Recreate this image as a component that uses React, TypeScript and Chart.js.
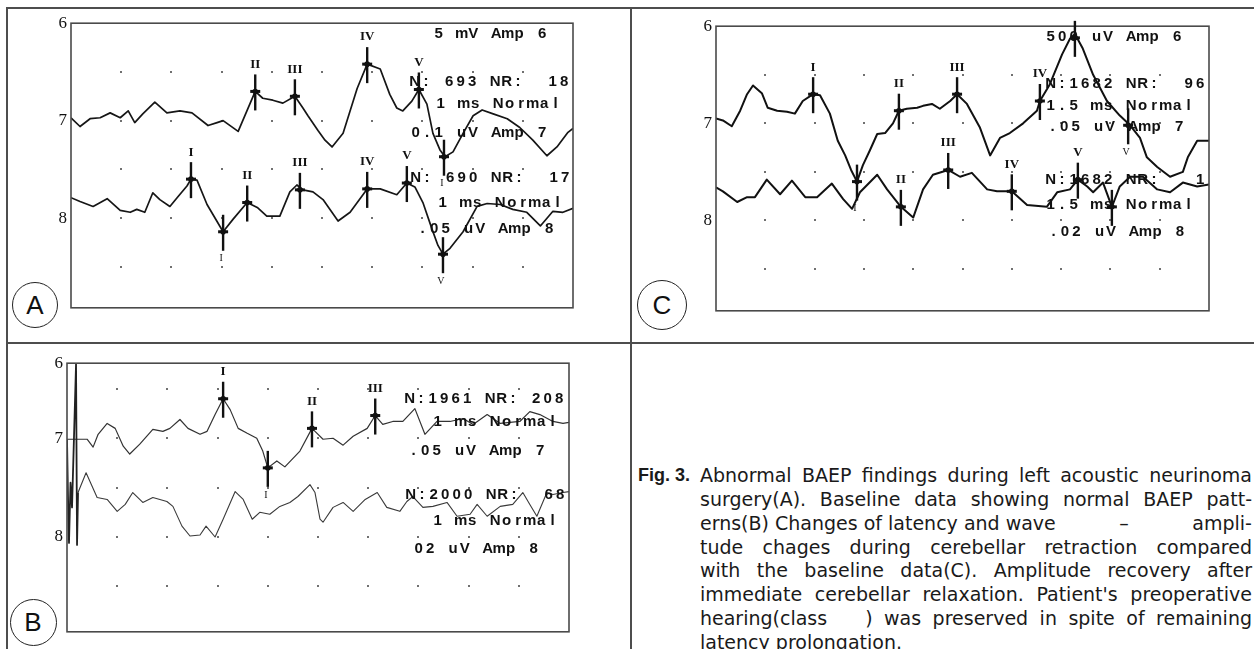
import React, { useEffect, useRef } from "react";
import { Chart, registerables } from "chart.js";

Chart.register(...registerables);

// ---------- shared axis values ----------
const yTickValuesAC = [6, 7, 8];
const yTickValuesB = [6.24, 7, 8];
const yTickLabels = ["6", "7", "8"];
const dotColumnsMs = [1, 2, 3, 4, 5, 6, 7, 8, 9];
const dotRowsAmp = [6.5, 7, 7.5, 8, 8.5];

// ---------- Panel A (intra-operative, abnormal) ----------
const aUpperMs = [0, 0.18, 0.38, 0.58, 0.78, 0.98, 1.14, 1.27, 1.43, 1.67, 1.91, 2.17, 2.41, 2.73, 2.91, 3.03, 3.33, 3.67, 3.82, 4.02, 4.22, 4.46, 4.62, 4.72, 4.92, 5.06, 5.2, 5.42, 5.7, 5.9, 6.16, 6.35, 6.49, 6.61, 6.79, 6.93, 7.09, 7.21, 7.35, 7.45, 7.61, 7.81, 8.01, 8.19, 8.41, 8.69, 8.94, 9.2, 9.48, 9.68, 9.9, 10];
const aUpperAmp = [6.97, 7.06, 6.98, 6.97, 6.92, 6.97, 6.9, 7.02, 6.93, 6.81, 6.92, 6.9, 6.92, 7.05, 7.02, 7.0, 7.11, 6.7, 6.77, 6.79, 6.82, 6.75, 6.87, 6.95, 7.1, 7.2, 7.27, 7.13, 6.67, 6.42, 6.47, 6.73, 6.87, 6.9, 6.8, 6.68, 6.83, 7.13, 7.3, 7.37, 7.32, 7.13, 6.95, 6.89, 6.93, 6.98, 7.07, 7.2, 7.36, 7.27, 7.12, 7.08];
const aLowerMs = [0, 0.18, 0.44, 0.72, 0.98, 1.18, 1.31, 1.47, 1.63, 1.77, 1.97, 2.13, 2.31, 2.39, 2.51, 2.71, 3.03, 3.23, 3.51, 3.71, 3.9, 4.16, 4.36, 4.5, 4.62, 4.82, 5.02, 5.32, 5.56, 5.9, 6.16, 6.49, 6.69, 6.85, 7.01, 7.19, 7.31, 7.41, 7.55, 7.81, 8.09, 8.29, 8.55, 8.8, 9.08, 9.35, 9.6, 9.8, 10];
const aLowerAmp = [7.79, 7.83, 7.88, 7.8, 7.92, 7.94, 7.91, 7.94, 7.74, 7.81, 7.88, 7.78, 7.67, 7.6, 7.61, 7.86, 8.14, 8.01, 7.84, 7.89, 7.98, 7.98, 7.73, 7.66, 7.71, 7.73, 7.81, 8.03, 7.94, 7.7, 7.7, 7.76, 7.64, 7.68, 7.84, 8.11, 8.28, 8.37, 8.31, 8.14, 7.88, 7.85, 7.86, 7.91, 7.94, 8.08, 7.93, 7.94, 7.9];
const aPeakMs = [3.67, 4.46, 5.9, 6.93, 7.43, 2.39, 3.03, 3.51, 4.56, 5.9, 6.69, 7.41];
const aPeakAmp = [6.7, 6.75, 6.42, 6.68, 7.37, 7.6, 8.14, 7.84, 7.71, 7.7, 7.64, 8.37];
const aPeakLabel = ["II", "III", "IV", "V", "I", "I", "I", "II", "III", "IV", "V", "V"];
const aPeakSide = ["up", "up", "up", "up", "down", "up", "down", "up", "up", "up", "up", "down"];
const aReadout = ["5 mV Amp 6", "N: 693 NR:  18", "1 ms Normal", "0.1 uV Amp 7", "N: 690 NR:  17", "1 ms Normal", ".05 uV Amp 8"];
const aReadoutMs = [7.21, 6.73, 7.25, 6.75, 6.75, 7.29, 6.89];
const aReadoutAmp = [6.11, 6.6, 6.83, 7.13, 7.59, 7.84, 8.11];

// ---------- Panel C (recovery) ----------
const cUpperMs = [0, 0.14, 0.32, 0.49, 0.63, 0.75, 0.93, 1.05, 1.24, 1.44, 1.6, 1.76, 1.97, 2.11, 2.31, 2.47, 2.62, 2.74, 2.86, 2.98, 3.12, 3.27, 3.43, 3.59, 3.71, 3.87, 4.08, 4.2, 4.38, 4.54, 4.75, 4.89, 5.09, 5.35, 5.56, 5.76, 5.96, 6.23, 6.51, 6.57, 6.77, 7.02, 7.18, 7.28, 7.44, 7.65, 7.93, 8.19, 8.4, 8.6, 8.74, 8.95, 9.21, 9.47, 9.57, 9.76, 10];
const cUpperAmp = [6.95, 6.97, 7.03, 6.87, 6.7, 6.61, 6.69, 6.84, 6.87, 6.88, 6.9, 6.77, 6.7, 6.71, 6.9, 7.18, 7.33, 7.48, 7.6, 7.43, 7.28, 7.11, 7.1, 7.0, 6.87, 6.85, 6.84, 6.82, 6.8, 6.85, 6.77, 6.7, 6.8, 7.04, 7.33, 7.15, 7.1, 7.0, 6.87, 6.77, 6.6, 6.29, 6.13, 6.08, 6.23, 6.5, 6.77, 6.92, 7.02, 7.15, 7.35, 7.45, 7.55, 7.5, 7.35, 7.18, 7.18];
const cLowerMs = [0, 0.14, 0.43, 0.63, 0.79, 1.03, 1.3, 1.54, 1.81, 2.05, 2.35, 2.58, 2.76, 2.92, 3.27, 3.47, 3.75, 4.0, 4.2, 4.4, 4.71, 4.95, 5.19, 5.5, 5.7, 6.0, 6.31, 6.71, 6.92, 7.18, 7.34, 7.53, 7.65, 7.85, 8.03, 8.19, 8.4, 8.66, 8.95, 9.21, 9.47, 9.76, 10];
const cLowerAmp = [7.66, 7.7, 7.81, 7.76, 7.76, 7.58, 7.73, 7.59, 7.76, 7.76, 7.62, 7.78, 7.88, 7.71, 7.53, 7.68, 7.86, 7.97, 7.68, 7.53, 7.48, 7.55, 7.51, 7.68, 7.7, 7.7, 7.84, 7.86, 7.71, 7.68, 7.58, 7.65, 7.71, 7.61, 7.86, 7.65, 7.55, 7.55, 7.68, 7.71, 7.61, 7.65, 7.63];
const cPeakMs = [1.97, 2.86, 3.71, 4.89, 6.57, 7.28, 8.36, 3.75, 4.71, 6.0, 7.34, 8.03];
const cPeakAmp = [6.7, 7.6, 6.87, 6.7, 6.77, 6.12, 7.02, 7.86, 7.48, 7.7, 7.58, 7.86];
const cPeakLabel = ["I", "I", "II", "III", "IV", "", "V", "II", "III", "IV", "V", ""];
const cPeakSide = ["up", "down", "up", "up", "up", "none", "down", "up", "up", "up", "up", "none"];
const cReadout = ["500 uV Amp 6", "N:1682 NR:  96", "1.5 ms Normal", ".05 uV Amp 7", "N:1682 NR:   1", "1.5 ms Normal", ".02 uV Amp 8"];
const cReadoutMs = [6.67, 6.67, 6.67, 6.71, 6.67, 6.67, 6.73];
const cReadoutAmp = [6.11, 6.59, 6.82, 7.04, 7.58, 7.84, 8.12];

// ---------- Panel B (baseline) ----------
const bArtifactMs = [0, 0.02, 0.04, 0.07, 0.1, 0.18, 0.2, 0.22];
const bArtifactAmp = [7.01, 7.6, 8.06, 7.45, 7.7, 6.25, 8.08, 7.55];
const bUpperMs = [0, 0.36, 0.4, 0.52, 0.62, 0.8, 0.96, 1.12, 1.25, 1.45, 1.71, 1.91, 2.05, 2.25, 2.41, 2.65, 2.79, 2.95, 3.11, 3.25, 3.41, 3.59, 3.78, 3.9, 4.0, 4.18, 4.34, 4.64, 4.88, 5.1, 5.3, 5.5, 5.7, 5.98, 6.14, 6.29, 6.49, 6.69, 6.93, 7.13, 7.37, 7.63, 7.89, 8.09, 8.37, 8.63, 9.02, 9.22, 9.42, 9.68, 9.88, 10];
const bUpperAmp = [7.01, 7.01, 7.01, 7.09, 6.96, 6.85, 6.9, 7.08, 7.16, 7.06, 6.91, 6.93, 6.9, 6.81, 6.9, 6.96, 6.93, 6.76, 6.6, 6.71, 6.9, 6.95, 7.0, 7.13, 7.3, 7.23, 7.29, 7.13, 6.9, 7.01, 7.0, 7.07, 6.98, 6.9, 6.77, 6.86, 6.83, 6.83, 6.7, 6.96, 6.83, 6.83, 6.8, 6.86, 6.76, 6.85, 6.83, 6.73, 6.76, 6.83, 6.85, 6.84];
const bLowerMs = [0.22, 0.38, 0.6, 0.8, 1.0, 1.16, 1.31, 1.51, 1.71, 1.99, 2.11, 2.29, 2.45, 2.65, 2.77, 2.95, 3.11, 3.35, 3.51, 3.69, 3.84, 4.04, 4.24, 4.44, 4.6, 4.84, 4.94, 5.04, 5.1, 5.3, 5.5, 5.7, 5.94, 6.18, 6.37, 6.63, 6.77, 6.89, 7.09, 7.29, 7.57, 7.77, 8.03, 8.17, 8.37, 8.63, 8.88, 9.08, 9.22, 9.36, 9.56, 9.68, 9.88, 10];
const bLowerAmp = [7.55, 7.35, 7.6, 7.62, 7.74, 7.67, 7.55, 7.65, 7.6, 7.64, 7.69, 7.89, 7.99, 7.98, 7.89, 8.0, 7.82, 7.54, 7.62, 7.82, 7.75, 7.77, 7.69, 7.65, 7.59, 7.47, 7.55, 7.82, 7.85, 7.7, 7.65, 7.74, 7.62, 7.55, 7.7, 7.74, 7.64, 7.59, 7.7, 7.69, 7.65, 7.79, 7.77, 7.67, 7.79, 7.69, 7.67, 7.55, 7.67, 7.79, 7.55, 7.57, 7.55, 7.54];
const bPeakMs = [3.11, 4.0, 4.88, 6.14];
const bPeakAmp = [6.6, 7.3, 6.9, 6.77];
const bPeakLabel = ["I", "I", "II", "III"];
const bPeakSide = ["up", "down", "up", "up"];
const bReadout = ["N:1961 NR: 208", "1 ms Normal", ".05 uV Amp 7", "N:2000 NR:  68", "1 ms Normal", "02 uV Amp 8"];
const bReadoutMs = [6.71, 7.27, 6.79, 6.73, 7.27, 6.89];
const bReadoutAmp = [6.6, 6.83, 7.13, 7.57, 7.84, 8.12];

// ---------- caption ----------
const captionLabel = "Fig. 3.";
const captionLines = [
  "Abnormal BAEP findings during left acoustic neurinoma",
  "surgery(A). Baseline data showing normal BAEP patt-",
  "erns(B) Changes of latency and wave|–|ampli-",
  "tude chages during cerebellar retraction compared",
  "with the baseline data(C). Amplitude recovery after",
  "immediate cerebellar relaxation. Patient's preoperative",
  "hearing(class\u2003\u2003) was preserved in spite of remaining",
  "latency prolongation.",
];

// ---------- layout ----------
const PAD_L = 50, PAD_T = 12, PAD_R = 8, PAD_B = 12;
const CELL = 11.5;

type Trace = { ms: number[]; amp: number[]; width: number; color: string };
type PanelCfg = {
  box: { left: number; top: number; w: number; h: number };
  yMin: number; yMax: number; yTicks: number[];
  traces: Trace[];
  peaks: { ms: number[]; amp: number[]; label: string[]; side: string[] };
  readout: { text: string[]; ms: number[]; amp: number[] };
  letter: string; circle: { cx: number; cy: number; d: number };
};

const panels: PanelCfg[] = [
  {
    box: { left: 71, top: 21, w: 502, h: 289 }, yMin: 6, yMax: 8.92, yTicks: yTickValuesAC,
    traces: [
      { ms: aUpperMs, amp: aUpperAmp, width: 1.7, color: "#161616" },
      { ms: aLowerMs, amp: aLowerAmp, width: 1.7, color: "#161616" },
    ],
    peaks: { ms: aPeakMs, amp: aPeakAmp, label: aPeakLabel, side: aPeakSide },
    readout: { text: aReadout, ms: aReadoutMs, amp: aReadoutAmp },
    letter: "A", circle: { cx: 35, cy: 305, d: 46 },
  },
  {
    box: { left: 716, top: 24, w: 493, h: 289 }, yMin: 6, yMax: 8.93, yTicks: yTickValuesAC,
    traces: [
      { ms: cUpperMs, amp: cUpperAmp, width: 2, color: "#111" },
      { ms: cLowerMs, amp: cLowerAmp, width: 2, color: "#111" },
    ],
    peaks: { ms: cPeakMs, amp: cPeakAmp, label: cPeakLabel, side: cPeakSide },
    readout: { text: cReadout, ms: cReadoutMs, amp: cReadoutAmp },
    letter: "C", circle: { cx: 662, cy: 305, d: 50 },
  },
  {
    box: { left: 67, top: 361, w: 502, h: 273 }, yMin: 6.24, yMax: 8.96, yTicks: yTickValuesB,
    traces: [
      { ms: bArtifactMs, amp: bArtifactAmp, width: 1.8, color: "#222" },
      { ms: bUpperMs, amp: bUpperAmp, width: 1.2, color: "#333" },
      { ms: bLowerMs, amp: bLowerAmp, width: 1.1, color: "#3a3a3a" },
    ],
    peaks: { ms: bPeakMs, amp: bPeakAmp, label: bPeakLabel, side: bPeakSide },
    readout: { text: bReadout, ms: bReadoutMs, amp: bReadoutAmp },
    letter: "B", circle: { cx: 33, cy: 622, d: 47 },
  },
];

function makeDecor(p: PanelCfg) {
  return {
    id: "decor",
    beforeDatasetsDraw(chart: any) {
      const { ctx, chartArea, scales } = chart;
      const x = scales.x, y = scales.y;
      ctx.save();
      ctx.fillStyle = "#707070";
      for (const r of dotRowsAmp) {
        for (const c of dotColumnsMs) {
          const px = x.getPixelForValue(c), py = y.getPixelForValue(r);
          if (py > chartArea.top + 2 && py < chartArea.bottom - 2) ctx.fillRect(Math.round(px) - 1, Math.round(py) - 1, 2, 2);
        }
      }
      ctx.restore();
    },
    afterDatasetsDraw(chart: any) {
      const { ctx, chartArea, scales } = chart;
      const x = scales.x, y = scales.y;
      ctx.save();
      // plot frame
      ctx.strokeStyle = "#4a4a4a";
      ctx.lineWidth = 1.6;
      ctx.strokeRect(chartArea.left, chartArea.top, chartArea.right - chartArea.left, chartArea.bottom - chartArea.top);
      // peak markers
      ctx.strokeStyle = "#111";
      ctx.fillStyle = "#111";
      p.peaks.ms.forEach((m, i) => {
        const px = x.getPixelForValue(m), py = y.getPixelForValue(p.peaks.amp[i]);
        ctx.lineWidth = 2.4;
        ctx.beginPath(); ctx.moveTo(px, py - 17); ctx.lineTo(px, py + 19); ctx.stroke();
        ctx.lineWidth = 3;
        ctx.beginPath(); ctx.moveTo(px - 5, py); ctx.lineTo(px + 5, py); ctx.stroke();
        ctx.beginPath(); ctx.arc(px, py, 2.8, 0, Math.PI * 2); ctx.fill();
        const side = p.peaks.side[i];
        const lab = p.peaks.label[i];
        if (lab && side !== "none") {
          ctx.textAlign = "center";
          ctx.textBaseline = "middle";
          if (side === "down") {
            ctx.font = "10px 'Liberation Serif'";
            ctx.fillText(lab, px - 2, py + 27);
          } else {
            ctx.font = "bold 13px 'Liberation Serif'";
            ctx.fillText(lab, px, py - 27);
          }
        }
      });
      // device readout text (monospaced cells)
      ctx.font = "bold 15px 'Liberation Sans'";
      ctx.textAlign = "center";
      ctx.textBaseline = "middle";
      ctx.fillStyle = "#111";
      p.readout.text.forEach((t, i) => {
        const sx = x.getPixelForValue(p.readout.ms[i]);
        const sy = y.getPixelForValue(p.readout.amp[i]);
        for (let k = 0; k < t.length; k++) {
          const ch = t[k];
          if (ch !== " ") ctx.fillText(ch, sx + k * CELL + CELL / 2, sy);
        }
      });
      ctx.restore();
    },
  };
}

function Panel({ p }: { p: PanelCfg }) {
  const ref = useRef<HTMLCanvasElement>(null);
  const w = p.box.w + PAD_L + PAD_R;
  const h = p.box.h + PAD_T + PAD_B;
  useEffect(() => {
    const canvas = ref.current;
    if (!canvas) return;
    const chart = new Chart(canvas, {
      type: "line",
      data: {
        datasets: p.traces.map((t) => ({
          data: t.ms.map((m, i) => ({ x: m, y: t.amp[i] })),
          borderColor: t.color,
          borderWidth: t.width,
          pointRadius: 0,
          tension: 0,
          fill: false,
          borderJoinStyle: "round" as const,
        })),
      },
      options: {
        animation: false,
        responsive: false,
        maintainAspectRatio: false,
        events: [],
        layout: { padding: { left: 0, top: PAD_T, right: PAD_R, bottom: PAD_B } },
        scales: {
          x: { type: "linear", min: 0, max: 10, display: false },
          y: {
            type: "linear",
            reverse: true,
            min: p.yMin,
            max: p.yMax,
            grid: { display: false, drawTicks: false },
            border: { display: false },
            afterBuildTicks: (s: any) => { s.ticks = p.yTicks.map((v) => ({ value: v })); },
            afterFit: (s: any) => { s.width = PAD_L; },
            ticks: {
              padding: 4,
              color: "#111",
              font: { family: "'Liberation Serif'", size: 17 },
              callback: (_v: any, idx: number) => yTickLabels[idx],
            },
          },
        },
        plugins: { legend: { display: false }, tooltip: { enabled: false } },
      } as any,
      plugins: [makeDecor(p)],
    });
    return () => chart.destroy();
  }, [p]);
  return (
    <canvas
      ref={ref}
      width={w}
      height={h}
      style={{ position: "absolute", left: p.box.left - PAD_L, top: p.box.top - PAD_T, width: w, height: h }}
    />
  );
}

const line = (s: React.CSSProperties): React.CSSProperties => ({ position: "absolute", background: "#4d4d4d", ...s });

export default function App() {
  const capTop = 476;
  const capLH = 23.8;
  return (
    <div style={{ position: "absolute", left: 0, top: 0, width: 1254, height: 649, overflow: "hidden", background: "#fff" }}>
      {/* figure frame */}
      <div style={line({ left: 7, top: 7, width: 1247, height: 2 })} />
      <div style={line({ left: 6, top: 7, width: 2, height: 642 })} />
      <div style={line({ left: 630, top: 7, width: 2, height: 642 })} />
      <div style={line({ left: 7, top: 342, width: 1247, height: 2 })} />

      {panels.map((p) => <Panel key={p.letter} p={p} />)}

      {panels.map((p) => (
        <div
          key={"c" + p.letter}
          style={{
            position: "absolute",
            left: p.circle.cx - p.circle.d / 2,
            top: p.circle.cy - p.circle.d / 2,
            width: p.circle.d,
            height: p.circle.d,
            boxSizing: "border-box",
            border: "1.5px solid #222",
            borderRadius: "50%",
            display: "flex",
            alignItems: "center",
            justifyContent: "center",
            fontFamily: "'Liberation Sans', Arial, sans-serif",
            fontSize: 26,
            color: "#111",
            background: "#fff",
          }}
        >
          {p.letter}
        </div>
      ))}

      {/* caption */}
      <div
        style={{
          position: "absolute",
          left: 638,
          top: capTop - capLH / 2,
          height: capLH,
          lineHeight: capLH + "px",
          fontFamily: "'Liberation Sans', sans-serif",
          fontWeight: 700,
          fontSize: 18,
          color: "#1a1a1a",
        }}
      >
        {captionLabel}
      </div>
      {captionLines.map((t, i) => {
        const last = i === captionLines.length - 1;
        const parts = t.split("|");
        return (
          <div
            key={i}
            style={{
              position: "absolute",
              left: 700,
              top: capTop - capLH / 2 + i * capLH,
              width: 552,
              height: capLH,
              lineHeight: capLH + "px",
              fontFamily: "'DejaVu Sans', sans-serif",
              fontSize: 19,
              color: "#1a1a1a",
              whiteSpace: "nowrap",
              textAlign: last ? "left" : "justify",
              textAlignLast: last ? "left" : "justify",
              display: parts.length > 1 ? "flex" : "block",
              justifyContent: "space-between",
            } as React.CSSProperties}
          >
            {parts.length > 1 ? parts.map((s, k) => <span key={k}>{s}</span>) : t}
          </div>
        );
      })}
    </div>
  );
}
